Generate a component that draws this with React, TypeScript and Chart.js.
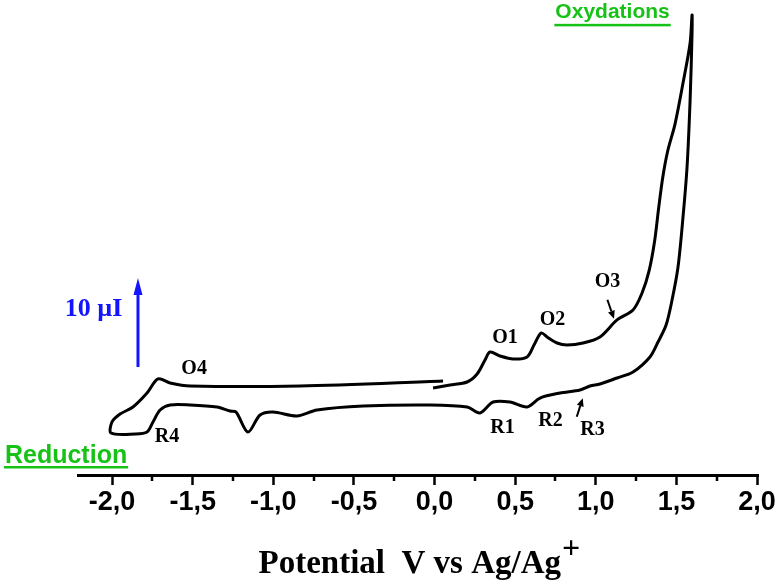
import React, { useEffect, useRef } from 'react';
import { Chart, registerables } from 'chart.js';

Chart.register(...registerables);

// Cyclic voltammogram, scan order (potential in V vs Ag/Ag+, current in µA)
const potentialV = [
  -0.009, 0.096, 0.202, 0.264, 0.313, 0.344, 0.406, 0.487, 0.574, 0.617,
  0.661, 0.698, 0.76, 0.822, 0.921, 1.026, 1.132, 1.231, 1.287, 1.33,
  1.365, 1.39, 1.415, 1.446, 1.491, 1.541, 1.585, 1.597, 1.597, 1.585, 1.566,
  1.541, 1.51, 1.473, 1.436, 1.386, 1.336, 1.231, 1.132, 1.026, 0.964,
  0.902, 0.778, 0.654, 0.574, 0.468, 0.363, 0.282, 0.202, -0.028, -0.443,
  -0.729, -0.853, -1.002, -1.082, -1.157, -1.231, -1.268, -1.349, -1.516, -1.64,
  -1.702, -1.746, -1.783, -1.857, -2.006, -2.0, -1.95, -1.87, -1.783, -1.715,
  -1.64, -1.516, -0.834, 0.053,
];
const currentMicroA = [
  9.78, 10.11, 10.45, 11.35, 12.92, 13.82, 13.37, 13.03, 13.26, 14.61,
  15.96, 15.51, 14.83, 14.61, 14.83, 15.51, 17.42, 18.54, 20.45, 22.9,
  26.3, 30.0, 33.4, 36.4, 39.4, 44.04, 48.54, 51.69, 49.66, 42.13, 34.61,
  28.99, 23.37, 19.66, 16.85, 14.94, 13.26, 11.57, 10.9, 10.22, 10.0,
  9.55, 9.21, 8.65, 7.64, 8.2, 8.2, 6.97, 7.64, 7.87, 7.75,
  7.3, 6.63, 7.08, 6.74, 4.83, 7.08, 7.19, 7.64, 7.87, 7.87,
  7.3, 5.96, 4.83, 4.61, 4.72, 5.96, 6.85, 7.64, 9.21, 10.79,
  10.34, 10.0, 10.0, 10.56,
];

// Peak annotations (anchored in data coordinates)
const peakNames = ['O1', 'O2', 'O3', 'O4', 'R1', 'R2', 'R3', 'R4'];
const peakNameV = [0.437, 0.732, 1.073, -1.491, 0.422, 0.719, 0.98, -1.659];
const peakNameI = [15.45, 17.42, 21.69, 11.97, 5.34, 6.12, 5.11, 4.33];

const xMin = -2.211;
const xMax = 2.006;
const yMin = 0;
const yMax = 53.37;
const scaleBarI = [12.13, 22.13]; // 10 µI
const scaleBarV = -1.839;

const TITLE_MAIN = 'Potential  V vs Ag/Ag';
const TITLE_FONT_SIZE = 33;
const SERIF = '"Liberation Serif", "Times New Roman", serif';
const SANS = '"Liberation Sans", Arial, sans-serif';
const GREEN = '#17c217';
const BLUE = '#1414ff';

function isMajor(v: number) {
  return Math.abs(v * 2 - Math.round(v * 2)) < 1e-6;
}

function fmt(v: number) {
  const r = Math.round(v * 10) / 10;
  const s = (Math.abs(r) < 1e-9 ? 0 : r).toFixed(1);
  return s.replace('.', ',');
}

function drawArrow(
  ctx: CanvasRenderingContext2D,
  x1: number, y1: number, x2: number, y2: number,
  color: string, width: number, headLen: number, headW: number,
) {
  const ang = Math.atan2(y2 - y1, x2 - x1);
  const bx = x2 - headLen * Math.cos(ang);
  const by = y2 - headLen * Math.sin(ang);
  ctx.strokeStyle = color;
  ctx.fillStyle = color;
  ctx.lineWidth = width;
  ctx.beginPath();
  ctx.moveTo(x1, y1);
  ctx.lineTo(bx, by);
  ctx.stroke();
  ctx.beginPath();
  ctx.moveTo(x2, y2);
  ctx.lineTo(bx + (headW / 2) * Math.sin(ang), by - (headW / 2) * Math.cos(ang));
  ctx.lineTo(bx - (headW / 2) * Math.sin(ang), by + (headW / 2) * Math.cos(ang));
  ctx.closePath();
  ctx.fill();
}

function underlinedText(
  ctx: CanvasRenderingContext2D, text: string, cx: number, baseline: number,
  font: string, color: string, gap: number, thick: number,
) {
  ctx.font = font;
  ctx.fillStyle = color;
  ctx.textAlign = 'center';
  ctx.textBaseline = 'alphabetic';
  ctx.fillText(text, cx, baseline);
  const w = ctx.measureText(text).width;
  ctx.fillRect(cx - w / 2 - 1, baseline + gap, w + 2, thick);
}

const annotatePlugin = {
  id: 'annotate',
  afterDraw(chart: any) {
    const { ctx, chartArea } = chart;
    const x = chart.scales.x;
    const y = chart.scales.y;
    const px = (v: number) => x.getPixelForValue(v);
    const py = (v: number) => y.getPixelForValue(v);
    ctx.save();

    // minor ticks
    ctx.strokeStyle = '#000';
    ctx.lineWidth = 2.5;
    x.ticks.forEach((t: any) => {
      if (!isMajor(t.value)) {
        const X = Math.round(px(t.value));
        ctx.beginPath();
        ctx.moveTo(X, chartArea.bottom);
        ctx.lineTo(X, chartArea.bottom + 6);
        ctx.stroke();
      }
    });

    // superscript "+" of the axis title
    ctx.font = `bold ${TITLE_FONT_SIZE}px ${SERIF}`;
    const mainW = ctx.measureText(TITLE_MAIN).width;
    const fullW = ctx.measureText(TITLE_MAIN + '  ').width;
    const tCenter = (x.left + x.right) / 2;
    const tMiddle = x.bottom - (TITLE_FONT_SIZE * 1.2) / 2;
    const endX = tCenter - fullW / 2 + mainW;
    ctx.font = `bold 32px ${SERIF}`;
    ctx.fillStyle = '#000';
    ctx.textAlign = 'left';
    ctx.textBaseline = 'middle';
    ctx.fillText('+', endX + 1, tMiddle - 14);

    // peak labels
    ctx.font = `bold 20px ${SERIF}`;
    ctx.textAlign = 'center';
    ctx.textBaseline = 'middle';
    peakNames.forEach((n, i) => {
      ctx.fillText(n, px(peakNameV[i]), py(peakNameI[i]));
    });

    // small arrows for O3 and R3
    drawArrow(ctx, px(1.072), py(19.69), px(1.113), py(17.55), '#000', 2, 8, 7);
    drawArrow(ctx, px(0.882), py(6.55), px(0.919), py(8.62), '#000', 2, 8, 7);

    // scale bar 10 µI
    drawArrow(ctx, px(scaleBarV), py(scaleBarI[0]), px(scaleBarV), py(scaleBarI[1]), BLUE, 3, 17, 9);
    ctx.font = `bold 26px ${SERIF}`;
    ctx.fillStyle = BLUE;
    ctx.textAlign = 'center';
    ctx.textBaseline = 'middle';
    ctx.fillText('10 µI', px(-2.115), py(18.65));

    // Oxydations / Reduction
    underlinedText(ctx, 'Oxydations', px(1.104), py(51.31), `bold 21px ${SANS}`, GREEN, 5.5, 2.5);
    underlinedText(ctx, 'Reduction', px(-2.285), py(1.35), `bold 25px ${SANS}`, GREEN, 3, 2.5);

    ctx.restore();
  },
};

export default function App() {
  const ref = useRef<HTMLCanvasElement>(null);
  useEffect(() => {
    const canvas = ref.current;
    if (!canvas) return;
    const points = potentialV.map((v, i) => ({ x: v, y: currentMicroA[i] }));
    const chart = new Chart(canvas, {
      type: 'scatter',
      data: {
        datasets: [
          {
            data: points,
            showLine: true,
            borderColor: '#000',
            borderWidth: 3,
            pointRadius: 0,
            tension: 0.3,
            fill: false,
          },
        ],
      },
      options: {
        animation: false,
        responsive: false,
        events: [],
        layout: { padding: { left: 78, right: 20, top: 0, bottom: 1 } },
        plugins: { legend: { display: false }, tooltip: { enabled: false } },
        scales: {
          x: {
            type: 'linear',
            min: xMin,
            max: xMax,
            border: { display: true, color: '#000', width: 3 },
            grid: {
              drawOnChartArea: false,
              drawTicks: true,
              tickLength: 10,
              tickWidth: 2.5,
              tickColor: (c: any) => (c.tick && isMajor(c.tick.value) ? '#000' : 'rgba(0,0,0,0)'),
            },
            ticks: {
              stepSize: 0.25,
              includeBounds: false,
              autoSkip: false,
              maxRotation: 0,
              minRotation: 0,
              padding: 1,
              color: '#000',
              font: { family: SANS, size: 27, weight: 'bold' },
              callback: (v: any) => (isMajor(Number(v)) ? fmt(Number(v)) : ''),
            },
            title: {
              display: true,
              text: TITLE_MAIN + '  ',
              color: '#000',
              font: { family: SERIF, size: TITLE_FONT_SIZE, weight: 'bold' },
              padding: { top: 25, bottom: 0 },
            },
          },
          y: {
            type: 'linear',
            display: false,
            min: yMin,
            max: yMax,
          },
        },
      },
      plugins: [annotatePlugin],
    });
    return () => chart.destroy();
  }, []);
  return (
    <div style={{ position: 'fixed', left: 0, top: 0, width: 778, height: 585, background: '#fff' }}>
      <canvas ref={ref} width={778} height={585} style={{ display: 'block' }} />
    </div>
  );
}
